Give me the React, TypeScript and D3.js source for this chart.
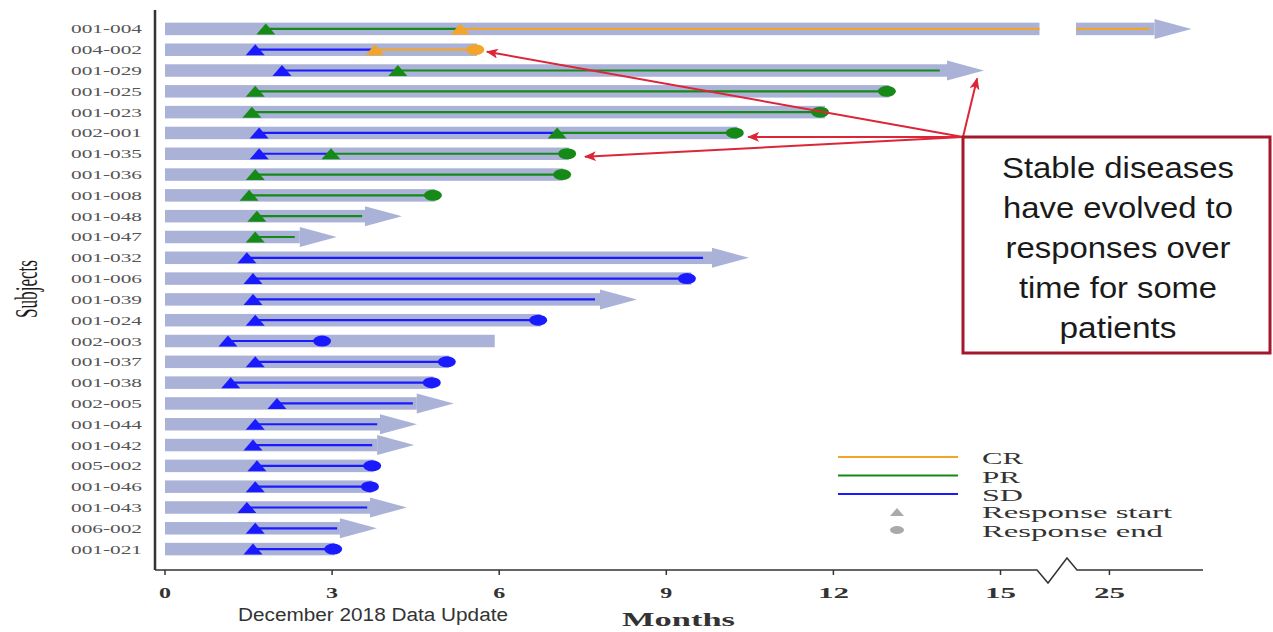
import React from "react";
import * as d3 from "d3";

// ---- data ----
const subjects = [
  "001-004", "004-002", "001-029", "001-025", "001-023", "002-001", "001-035",
  "001-036", "001-008", "001-048", "001-047", "001-032", "001-006", "001-039",
  "001-024", "002-003", "001-037", "001-038", "002-005", "001-044", "001-042",
  "005-002", "001-046", "001-043", "006-002", "001-021",
];
// months on study (end of grey bar)
const followUp = [
  25.81, 5.6, 14.04, 13.0, 11.85, 10.28, 7.25, 7.15, 4.85, 3.59, 2.42, 9.82, 9.45,
  7.81, 6.75, 5.92, 5.1, 4.82, 4.52, 3.86, 3.81, 3.75, 3.72, 3.68, 3.14, 3.05,
];
// still on study (arrow head)
const ongoing = [
  true, false, true, false, false, false, false, false, false, true, true, true, false,
  true, false, false, false, false, true, true, true, false, false, true, true, false,
];
const firstType = [
  "PR", "SD", "SD", "PR", "PR", "SD", "SD", "PR", "PR", "PR", "PR", "SD", "SD",
  "SD", "SD", "SD", "SD", "SD", "SD", "SD", "SD", "SD", "SD", "SD", "SD", "SD",
];
const firstStart = [
  1.81, 1.62, 2.1, 1.62, 1.56, 1.69, 1.69, 1.62, 1.51, 1.65, 1.62, 1.47, 1.58,
  1.58, 1.62, 1.13, 1.62, 1.18, 2.01, 1.62, 1.58, 1.65, 1.62, 1.47, 1.62, 1.58,
];
const secondType = [
  "CR", "CR", "PR", null, null, "PR", "PR", null, null, null, null, null, null,
  null, null, null, null, null, null, null, null, null, null, null, null, null,
];
const secondStart = [
  5.3, 3.77, 4.18, null, null, 7.04, 2.98, null, null, null, null, null, null,
  null, null, null, null, null, null, null, null, null, null, null, null, null,
];
const responseEnd = [
  25.72, 5.57, 13.91, 12.96, 11.76, 10.23, 7.22, 7.13, 4.81, 3.54, 2.33, 9.66, 9.37,
  7.72, 6.7, 2.82, 5.06, 4.79, 4.45, 3.81, 3.72, 3.72, 3.68, 3.63, 3.09, 3.02,
];
const responseEnded = [
  false, true, false, true, true, true, true, true, true, false, false, false, true,
  false, true, true, true, true, false, false, false, true, true, false, false, true,
];
const tickValues = [0, 3, 6, 9, 12, 15, 25];
const legendItems = ["CR", "PR", "SD"];
const noteLines = ["Stable diseases", "have evolved to", "responses over", "time for some", "patients"];
const noteLineWidths = [232, 230, 225, 198, 117];
// annotation arrow targets: subject row + month position + vertical offset
const noteTargetSubjects = ["004-002", "001-029", "002-001", "001-035"];
const noteTargetMonths = [5.78, 14.58, 10.47, 7.54];
const noteTargetDy = [2, 8, 4, 3];

// ---- styling ----
const W = 1273;
const H = 632;
const BREAK_LO = 15.7;
const BREAK_HI = 24.4;
const colors: Record<string, string> = { CR: "#f3a52a", PR: "#168a16", SD: "#1a1aff" };
const barColor = "#aab2d8";
const serif = "'Liberation Serif', 'Times New Roman', serif";
const sans = "'Liberation Sans', Arial, sans-serif";

const x = d3
  .scaleLinear()
  .domain([0, BREAK_LO, BREAK_HI, 28])
  .range([165, 165 + BREAK_LO * 55.7, 1076, 1076 + 3.6 * 55.7]);

const y = d3.scaleBand<string>().domain(subjects).range([18.5, 559.5]).padding(0);
const cy = (s: string) => (y(s) as number) + y.bandwidth() / 2;

function pieces(a: number, b: number): [number, number][] {
  if (b <= BREAK_LO || a >= BREAK_HI) return [[a, b]];
  return [
    [a, BREAK_LO],
    [BREAK_HI, b],
  ];
}

const tri = (px: number, py: number, w = 19, h = 11) =>
  `M${px - w / 2},${py + h / 2}L${px},${py - h / 2}L${px + w / 2},${py + h / 2}Z`;

export default function App() {
  const axisY = 570;
  const boxX = 963;
  const boxY = 137;
  const red = "#dc2638";
  return (
    <svg
      width={W}
      height={H}
      style={{ position: "absolute", left: 0, top: 0, background: "#fff" }}
    >
      <defs>
        <marker
          id="redhead"
          viewBox="0 0 12 10"
          refX="11"
          refY="5"
          markerWidth="12"
          markerHeight="10"
          markerUnits="userSpaceOnUse"
          orient="auto"
        >
          <path d="M0,0L12,5L0,10L3,5Z" fill={red} />
        </marker>
      </defs>

      {/* bars */}
      {subjects.map((s, i) => {
        const c = cy(s);
        const bh = 12.5;
        const end = followUp[i];
        return (
          <g key={"bar" + s}>
            {pieces(0, end).map(([a, b], k) => (
              <rect key={k} x={x(a)} y={c - bh / 2} width={x(b) - x(a)} height={bh} fill={barColor} />
            ))}
            {ongoing[i] && (
              <path
                d={`M${x(end)},${c - 10}L${x(end) + 37},${c}L${x(end)},${c + 10}Z`}
                fill={barColor}
              />
            )}
          </g>
        );
      })}

      {/* response lines and markers */}
      {subjects.map((s, i) => {
        const c = cy(s);
        const t1 = firstType[i];
        const t2 = secondType[i];
        const s2 = secondStart[i];
        const e = responseEnd[i];
        const firstEnd = s2 != null ? s2 : e;
        const lastType = t2 || t1;
        const segs: { t: string; a: number; b: number }[] = [{ t: t1, a: firstStart[i], b: firstEnd }];
        if (t2 && s2 != null) segs.push({ t: t2, a: s2, b: e });
        return (
          <g key={"resp" + s}>
            {segs.map((sg, k) =>
              pieces(sg.a, sg.b).map(([a, b], j) => (
                <line
                  key={k + "-" + j}
                  x1={x(a)}
                  x2={x(b)}
                  y1={c}
                  y2={c}
                  stroke={colors[sg.t]}
                  strokeWidth={2.2}
                />
              ))
            )}
            {responseEnded[i] && (
              <ellipse cx={x(e)} cy={c} rx={9} ry={5.5} fill={colors[lastType]} />
            )}
            <path d={tri(x(firstStart[i]), c)} fill={colors[t1]} />
            {t2 && s2 != null && <path d={tri(x(s2), c)} fill={colors[t2]} />}
          </g>
        );
      })}

      {/* subject labels */}
      {subjects.map((s) => (
        <text
          key={"lab" + s}
          x={71}
          y={cy(s) + 4.5}
          fontFamily={serif}
          fontSize={13}
          fill="#555"
          textLength={71}
          lengthAdjust="spacingAndGlyphs"
        >
          {s}
        </text>
      ))}

      {/* y axis */}
      <line x1={155} x2={155} y1={10} y2={axisY} stroke="#333" strokeWidth={2.5} />
      <text
        transform={`translate(37,289) rotate(-90)`}
        textAnchor="middle"
        fontFamily={serif}
        fontSize={31}
        fill="#1a1a1a"
        textLength={58}
        lengthAdjust="spacingAndGlyphs"
      >
        Subjects
      </text>

      {/* x axis with break */}
      <path
        d={`M155,${axisY}L1037,${axisY}L1048,583L1067,558L1077,${axisY}L1203,${axisY}`}
        fill="none"
        stroke="#333"
        strokeWidth={1.5}
      />
      {tickValues.map((t) => (
        <g key={"t" + t}>
          <line x1={x(t)} x2={x(t)} y1={axisY} y2={axisY + 5} stroke="#333" strokeWidth={1.5} />
          <text
            x={x(t)}
            y={598}
            textAnchor="middle"
            fontFamily={serif}
            fontSize={15}
            fontWeight="bold"
            fill="#333"
            textLength={String(t).length > 1 ? 31 : 12}
            lengthAdjust="spacingAndGlyphs"
          >
            {t}
          </text>
        </g>
      ))}
      <text
        x={622}
        y={626}
        fontFamily={serif}
        fontSize={19}
        fontWeight="bold"
        fill="#333"
        textLength={113}
        lengthAdjust="spacingAndGlyphs"
      >
        Months
      </text>
      <text
        x={238}
        y={621}
        fontFamily={sans}
        fontSize={18}
        fill="#333"
        textLength={270}
        lengthAdjust="spacingAndGlyphs"
      >
        December 2018 Data Update
      </text>

      {/* legend */}
      {legendItems.map((k, i) => {
        const ly = 457 + i * 18.5;
        return (
          <g key={"leg" + k}>
            <line x1={838} x2={958} y1={ly} y2={ly} stroke={colors[k]} strokeWidth={2.2} />
            <text
              x={982}
              y={ly + 7}
              fontFamily={serif}
              fontSize={17}
              fill="#333"
              textLength={k === "PR" ? 38 : 41}
              lengthAdjust="spacingAndGlyphs"
            >
              {k}
            </text>
          </g>
        );
      })}
      <path d={tri(897, 512, 14, 8)} fill="#aaa" />
      <text x={982} y={518} fontFamily={serif} fontSize={17} fill="#333" textLength={190} lengthAdjust="spacingAndGlyphs">
        Response start
      </text>
      <ellipse cx={897} cy={530} rx={7} ry={4} fill="#aaa" />
      <text x={982} y={537} fontFamily={serif} fontSize={17} fill="#333" textLength={181} lengthAdjust="spacingAndGlyphs">
        Response end
      </text>

      {/* annotation arrows */}
      {noteTargetSubjects.map((s, i) => (
        <line
          key={"arr" + s}
          x1={boxX}
          y1={boxY}
          x2={x(noteTargetMonths[i])}
          y2={cy(s) + noteTargetDy[i]}
          stroke={red}
          strokeWidth={2}
          markerEnd="url(#redhead)"
        />
      ))}

      {/* annotation box */}
      <rect x={boxX} y={boxY} width={307} height={216} fill="#fff" stroke="#a3192b" strokeWidth={3} />
      {noteLines.map((l, i) => (
        <text
          key={"n" + i}
          x={1118}
          y={178 + i * 40}
          textAnchor="middle"
          fontFamily={sans}
          fontSize={30}
          fill="#1a1a1a"
          textLength={noteLineWidths[i]}
          lengthAdjust="spacingAndGlyphs"
        >
          {l}
        </text>
      ))}
    </svg>
  );
}
